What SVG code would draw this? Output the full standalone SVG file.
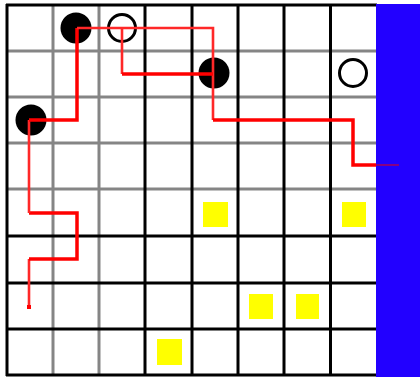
<svg xmlns="http://www.w3.org/2000/svg" width="420" height="377" viewBox="0 0 420 377">
<style>
.g{stroke:#858585;stroke-width:3;fill:none}
.b{stroke:#000;stroke-width:3;fill:none}
.stone{fill:#000}
.open{fill:none;stroke:#000;stroke-width:3}
.sq{fill:#ffff00}
.r{stroke:#ff0000;stroke-width:3.5;fill:none;stroke-linejoin:miter}
.rl{stroke:#ff2828;stroke-width:2.6;fill:none}
</style>
<rect width="420" height="377" fill="#fff"/>
<g id="grid">
<g id="gray-lines">
<line class="g" x1="53" y1="5" x2="53" y2="375"/>
<line class="g" x1="99" y1="5" x2="99" y2="375"/>
<line class="g" x1="7" y1="51" x2="376" y2="51"/>
<line class="g" x1="7" y1="97" x2="376" y2="97"/>
<line class="g" x1="7" y1="143" x2="376" y2="143"/>
<line class="g" x1="7" y1="189" x2="376" y2="189"/>
</g>
<g id="black-lines">
<line class="b" x1="7" y1="4" x2="7" y2="376"/>
<line class="b" x1="145" y1="5" x2="145" y2="375"/>
<line class="b" x1="192" y1="5" x2="192" y2="375"/>
<line class="b" x1="238" y1="5" x2="238" y2="375"/>
<line class="b" x1="284" y1="5" x2="284" y2="375"/>
<line class="b" x1="330.5" y1="5" x2="330.5" y2="375"/>
<line class="b" x1="6" y1="5" x2="377" y2="5"/>
<line class="b" x1="6" y1="236" x2="377" y2="236"/>
<line class="b" x1="6" y1="283" x2="377" y2="283"/>
<line class="b" x1="6" y1="329" x2="377" y2="329"/>
<line class="b" x1="6" y1="375" x2="377" y2="375"/>
</g>
</g>
<rect id="wall" x="376" y="4" width="44" height="373" fill="#2200ff"/>
<g id="squares">
<rect id="sq1" class="sq" x="203" y="202" width="25" height="25"/>
<rect id="sq2" class="sq" x="342" y="202" width="24" height="25"/>
<rect id="sq3" class="sq" x="249" y="294" width="24" height="25"/>
<rect id="sq4" class="sq" x="296" y="294" width="23" height="25"/>
<rect id="sq5" class="sq" x="157" y="339" width="25" height="26"/>
</g>
<g id="stones">
<g id="s1"><circle class="stone" cx="76" cy="28" r="15.5"/></g>
<g id="s2"><circle class="open" cx="122" cy="28" r="13.5"/></g>
<g id="s3"><circle class="stone" cx="31" cy="120" r="15.5"/></g>
<g id="s4"><circle class="stone" cx="214" cy="73" r="15.5"/></g>
<g id="s5"><circle class="open" cx="353" cy="73" r="13.5"/></g>
</g>
<g id="connectors">
<polyline class="rl" points="29,308 29,259"/>
<polyline class="r" points="29,259 77,259 77,213 29,213"/>
<polyline class="rl" points="29,213 29,120"/>
<polyline class="r" points="29,120 77,120 77,28"/>
<polyline class="rl" points="77,28 213,28 213,120"/>
<polyline class="r" points="213,120 353,120 353,165 376,165"/>
<line x1="376" y1="165" x2="399" y2="165" stroke="#cc0033" stroke-width="1.2"/>
<polyline class="rl" points="122,28 122,74"/>
<polyline class="r" points="122,74 213,74"/>
<rect x="27" y="305" width="4" height="4" fill="#ff0000"/>
</g>
</svg>
